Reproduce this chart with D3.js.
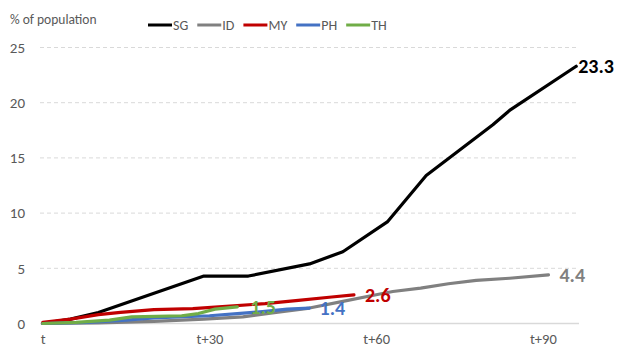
<!DOCTYPE html>
<html>
<head>
<meta charset="utf-8">
<script src="https://cdn.jsdelivr.net/npm/d3@7"></script>
<style>
  html, body { margin: 0; padding: 0; background: #fff; }
  svg { display: block; font-family: Carlito, Calibri, "Liberation Sans", Arial, sans-serif; }
</style>
</head>
<body>
<svg id="chart" width="617" height="349"></svg>
<script>
// ---- data ----
const seriesNames = ["SG", "ID", "MY", "PH", "TH"];
const seriesColors = ["#000000", "#808080", "#c00000", "#4472c4", "#70ad47"];

const sgDays = [0, 5, 10, 29, 37, 48, 54, 62, 69, 81, 84, 96];
const sgVals = [0, 0.4, 1.0, 4.3, 4.3, 5.4, 6.5, 9.2, 13.4, 18.0, 19.3, 23.3];

const idDays = [0, 10, 20, 29, 36, 42, 48, 54, 60, 63, 68, 73, 78, 84, 91];
const idVals = [0, 0.05, 0.2, 0.4, 0.6, 1.0, 1.4, 2.0, 2.6, 2.9, 3.2, 3.6, 3.9, 4.1, 4.4];

const myDays = [0, 5, 10, 14, 20, 27, 33, 40, 46, 52, 56];
const myVals = [0.1, 0.4, 0.8, 1.0, 1.25, 1.35, 1.55, 1.8, 2.1, 2.4, 2.6];

const phDays = [0, 8, 15, 20, 30, 35, 40, 44, 48];
const phVals = [0, 0.1, 0.3, 0.5, 0.7, 0.9, 1.1, 1.3, 1.4];

const thDays = [0, 6, 12, 16, 25, 28, 31, 35];
const thVals = [0, 0.1, 0.3, 0.6, 0.7, 0.9, 1.3, 1.5];

const endLabels = ["23.3", "4.4", "2.6", "1.4", "1.5"];

const yTicks = [0, 5, 10, 15, 20, 25];
const xTicks = [0, 30, 60, 90];
const xTickLabels = ["t", "t+30", "t+60", "t+90"];
const yTitle = "% of population";

// ---- build ----
const allDays = [sgDays, idDays, myDays, phDays, thDays];
const allVals = [sgVals, idVals, myVals, phVals, thVals];
const series = seriesNames.map((name, i) => ({
  name, color: seriesColors[i], label: endLabels[i],
  pts: allDays[i].map((d, j) => ({ d, v: allVals[i][j] }))
}));

const FONT = "Carlito, Calibri, 'Liberation Sans', Arial, sans-serif";
const svg = d3.select("#chart");
const x = d3.scaleLinear().domain([-0.5, 96.5]).range([40, 579]);
const y = d3.scaleLinear().domain([0, 25]).range([323.5, 47.5]);
const textGray = "#595959";

// gridlines
svg.append("g").selectAll("line").data(yTicks.filter(t => t > 0)).join("line")
  .attr("x1", 40).attr("x2", 579)
  .attr("y1", d => y(d)).attr("y2", d => y(d))
  .attr("stroke", "#d9d9d9").attr("stroke-width", 1)
  .attr("stroke-dasharray", "4,3");
// baseline
svg.append("line").attr("x1", 40).attr("x2", 579)
  .attr("y1", y(0)).attr("y2", y(0))
  .attr("stroke", "#d9d9d9").attr("stroke-width", 1.5);

// y axis labels
const yAxis = d3.axisLeft(y).tickValues(yTicks).tickSize(0).tickPadding(0);
const yg = svg.append("g").attr("transform", "translate(25,0)").call(yAxis);
yg.select(".domain").remove();
yg.selectAll("text").attr("fill", textGray).style("font-size", "15px").style("font-family", FONT);

// x axis labels
const xAxis = d3.axisBottom(x).tickValues(xTicks)
  .tickFormat((d, i) => xTickLabels[i]).tickSize(0).tickPadding(0);
const xg = svg.append("g").attr("transform", "translate(0,334)").call(xAxis);
xg.select(".domain").remove();
xg.selectAll("text").attr("fill", textGray).style("font-size", "14.5px").style("font-family", FONT);

// y title
svg.append("text").attr("x", 10).attr("y", 24).text(yTitle)
  .attr("fill", textGray).style("font-size", "13.5px");

// lines
const line = d3.line().x(p => x(p.d)).y(p => y(p.v));
svg.append("g").selectAll("path").data(series).join("path")
  .attr("d", s => line(s.pts))
  .attr("fill", "none").attr("stroke", s => s.color)
  .attr("stroke-width", 3.2).attr("stroke-linejoin", "round").attr("stroke-linecap", "round");

// end labels
const labelDx = [2, 11, 11, 10, 13];
svg.append("g").selectAll("text").data(series).join("text")
  .attr("x", (s, i) => x(s.pts[s.pts.length - 1].d) + labelDx[i])
  .attr("y", s => y(s.pts[s.pts.length - 1].v))
  .attr("dy", "0.34em")
  .attr("fill", s => s.color)
  .style("font-size", "20px").style("font-weight", "bold")
  .text(s => s.label);

// legend
const leg = svg.append("g");
let lx = 148;
series.forEach(s => {
  leg.append("line").attr("x1", lx).attr("x2", lx + 24).attr("y1", 25).attr("y2", 25)
    .attr("stroke", s.color).attr("stroke-width", 3);
  const t = leg.append("text").attr("x", lx + 25).attr("y", 25).attr("dy", "0.35em")
    .attr("fill", textGray).style("font-size", "14px").text(s.name);
  lx += 25 + t.node().getComputedTextLength() + 9;
});
</script>
</body>
</html>
